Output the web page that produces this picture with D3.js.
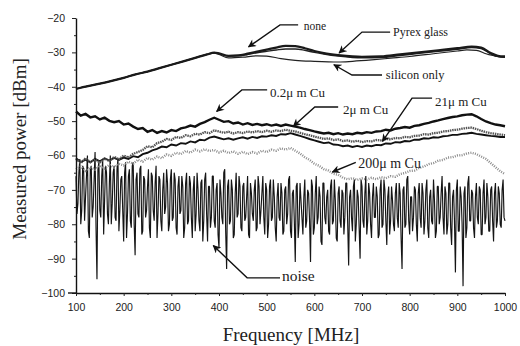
<!DOCTYPE html>
<html>
<head>
<meta charset="utf-8">
<script src="https://cdn.jsdelivr.net/npm/d3@7"></script>
<style>
  html, body { margin: 0; padding: 0; background: #fff; }
  svg { display: block; }
</style>
</head>
<body>
<svg id="chart" width="520" height="346"></svg>
<script>
// ---------------- DATA ----------------
const xTicks = [100, 200, 300, 400, 500, 600, 700, 800, 900, 1000];
const xMinor = [150, 250, 350, 450, 550, 650, 750, 850, 950];
const yTicks = [-20, -30, -40, -50, -60, -70, -80, -90, -100];
const yMinor = [-25, -35, -45, -55, -65, -75, -85, -95];

// smooth top curves: [frequency MHz, dBm]
const noneData = [[100,-40.6],[125,-39.8],[150,-39.1],[175,-38.3],[200,-37.4],[225,-36.4],[250,-35.6],[275,-34.6],[300,-33.6],[325,-32.6],[350,-31.6],[375,-30.6],[390,-30.1],[400,-30.3],[420,-31.0],[440,-30.9],[460,-30.4],[480,-29.8],[500,-29.2],[520,-28.6],[540,-28.1],[560,-28.2],[580,-28.8],[600,-29.6],[620,-30.2],[650,-30.8],[680,-31.2],[700,-31.3],[740,-31.2],[780,-30.6],[820,-30.0],[860,-29.4],[900,-28.8],[930,-28.3],[950,-28.6],[970,-30.2],[985,-31.0],[1000,-31.2]];
const pyrexData = [[100,-40.6],[125,-39.8],[150,-39.1],[175,-38.3],[200,-37.4],[225,-36.4],[250,-35.6],[275,-34.6],[300,-33.6],[325,-32.6],[350,-31.6],[375,-30.6],[390,-30.1],[400,-30.4],[420,-31.1],[440,-31.0],[460,-30.6],[480,-30.1],[500,-29.7],[520,-29.3],[540,-29.0],[560,-29.0],[580,-29.4],[600,-30.0],[620,-30.5],[650,-31.1],[680,-31.5],[700,-31.6],[740,-31.5],[780,-30.9],[820,-30.3],[860,-29.7],[900,-29.1],[930,-28.6],[950,-28.9],[970,-30.4],[985,-31.2],[1000,-31.4]];
const siliconData = [[100,-40.6],[125,-39.8],[150,-39.1],[175,-38.3],[200,-37.4],[225,-36.4],[250,-35.6],[275,-34.6],[300,-33.6],[325,-32.6],[350,-31.6],[375,-30.6],[390,-30.2],[400,-30.6],[420,-31.6],[450,-31.4],[480,-31.0],[500,-31.1],[530,-31.8],[560,-32.3],[600,-32.6],[650,-32.8],[680,-32.6],[720,-32.2],[760,-31.7],[800,-31.2],[850,-30.4],[900,-29.6],[920,-29.3],[940,-29.4],[960,-30.4],[980,-31.1],[1000,-31.3]];

// Cu curves sampled every 10 MHz from 100 to 1000 MHz
const cu02 = [-47.2,-48.4,-47.9,-48.9,-48.6,-49.5,-49.0,-49.9,-50.3,-50.0,
  -51.0,-50.7,-51.6,-52.3,-52.0,-53.1,-52.6,-53.4,-52.9,-53.3,
  -52.6,-52.9,-52.1,-51.8,-51.3,-51.6,-50.8,-50.3,-49.6,-49.0,
  -49.6,-50.2,-50.0,-50.7,-50.4,-51.0,-50.6,-51.1,-50.8,-51.2,
  -50.9,-51.3,-51.0,-51.4,-51.0,-51.3,-51.6,-51.9,-52.3,-52.6,
  -53.0,-53.3,-53.6,-53.4,-53.8,-53.5,-53.9,-53.6,-53.8,-53.4,
  -53.6,-53.2,-53.4,-53.0,-52.9,-52.5,-52.7,-52.2,-52.0,-51.7,
  -51.9,-51.4,-51.2,-50.8,-50.5,-50.1,-49.8,-49.4,-49.1,-48.8,
  -48.6,-48.3,-48.1,-48.0,-48.6,-49.4,-50.1,-50.6,-51.0,-51.2,-51.5];
const cu2 = [-61.0,-62.2,-60.8,-61.9,-61.2,-62.0,-60.9,-61.6,-60.4,-61.1,
  -60.0,-60.6,-59.5,-59.0,-58.4,-57.3,-57.6,-56.4,-56.0,-55.2,
  -55.5,-54.6,-54.9,-54.1,-54.4,-53.7,-53.9,-53.2,-53.5,-52.7,
  -53.0,-53.4,-53.1,-53.6,-53.2,-53.5,-53.0,-53.3,-52.9,-53.2,
  -52.8,-53.1,-52.7,-52.9,-52.5,-52.8,-53.0,-53.4,-53.8,-54.1,
  -54.5,-54.8,-55.2,-55.0,-55.5,-55.3,-55.8,-55.6,-56.0,-55.7,
  -56.1,-55.8,-55.9,-55.5,-55.6,-55.2,-55.3,-54.9,-55.0,-54.6,
  -54.7,-54.3,-54.2,-53.8,-53.9,-53.5,-53.4,-53.0,-52.9,-52.6,
  -52.5,-52.2,-52.0,-51.9,-52.3,-52.8,-53.2,-53.5,-53.7,-53.9,-54.1];
const cu21 = [-60.8,-61.9,-61.2,-62.0,-61.0,-61.7,-60.8,-61.5,-60.7,-61.3,
  -60.6,-61.0,-60.2,-60.5,-59.6,-59.2,-58.5,-58.1,-57.4,-57.6,
  -56.8,-57.1,-56.4,-56.6,-55.9,-56.2,-55.4,-55.6,-54.8,-54.5,
  -54.9,-55.3,-55.0,-55.4,-55.0,-54.7,-55.1,-54.6,-54.9,-54.4,
  -54.5,-54.1,-54.3,-53.8,-53.9,-53.5,-53.9,-54.3,-54.7,-55.2,
  -55.6,-56.0,-56.4,-56.2,-56.8,-56.9,-57.3,-57.1,-57.5,-57.2,
  -57.5,-57.1,-57.3,-56.9,-57.0,-56.5,-56.6,-56.1,-56.2,-55.8,
  -55.9,-55.4,-55.4,-55.0,-55.1,-54.7,-54.8,-54.4,-54.3,-54.0,
  -54.0,-53.7,-53.6,-53.4,-53.7,-53.9,-54.1,-54.3,-54.4,-54.6,-54.6];
const cu200 = [-64.0,-63.2,-64.5,-63.4,-64.1,-63.0,-63.8,-62.7,-63.5,-62.4,
  -62.9,-61.8,-62.4,-61.2,-61.8,-60.7,-61.2,-60.3,-60.8,-59.7,
  -60.1,-59.2,-59.6,-58.7,-59.2,-58.3,-58.8,-58.2,-58.7,-58.4,
  -59.1,-58.6,-59.3,-58.8,-59.5,-58.9,-59.6,-59.0,-59.4,-58.6,
  -59.0,-58.3,-58.6,-57.9,-58.3,-57.8,-58.6,-59.4,-60.5,-61.3,
  -62.4,-63.0,-64.0,-64.4,-65.3,-65.6,-66.5,-66.9,-66.6,-67.1,
  -66.7,-67.0,-66.5,-66.9,-66.3,-66.6,-66.0,-66.2,-65.4,-65.1,
  -64.5,-64.4,-63.6,-63.2,-62.5,-62.2,-61.5,-61.3,-60.6,-60.5,
  -60.0,-59.9,-59.4,-59.2,-59.6,-60.3,-61.0,-62.2,-63.4,-64.6,-65.4];

// noise floor: samples at 100, 104, ... 1000 MHz
const noise = [-66,-74,-61,-76,-64,-72,-60,-84,-63,-75,
  -59,-96,-62,-78,-61,-73,-65,-80,-60,-74,
  -63,-79,-61,-76,-66,-85,-62,-77,-64,-81,
  -62,-89,-65,-78,-63,-82,-67,-76,-64,-84,
  -66,-79,-63,-77,-67,-82,-65,-75,-68,-80,
  -64,-78,-67,-83,-66,-76,-69,-81,-65,-79,
  -68,-84,-66,-77,-70,-82,-67,-79,-65,-85,
  -69,-78,-66,-81,-68,-87,-71,-80,-64,-93,
  -67,-79,-70,-83,-65,-77,-69,-82,-68,-78,
  -66,-84,-71,-79,-67,-81,-69,-76,-66,-83,
  -70,-80,-67,-78,-72,-85,-68,-79,-71,-82,
  -69,-77,-66,-84,-70,-91,-68,-80,-73,-83,
  -67,-79,-71,-91,-69,-81,-66,-78,-72,-86,
  -68,-80,-70,-83,-67,-79,-73,-85,-69,-81,
  -71,-78,-68,-92,-70,-82,-67,-80,-72,-90,
  -69,-81,-66,-79,-71,-84,-68,-78,-72,-83,
  -67,-80,-70,-86,-69,-79,-73,-82,-68,-81,
  -71,-93,-69,-80,-66,-83,-72,-78,-70,-85,
  -68,-81,-71,-79,-67,-84,-70,-80,-73,-82,
  -69,-78,-66,-83,-71,-80,-68,-86,-70,-94,
  -67,-82,-72,-98,-69,-81,-66,-79,-71,-84,
  -68,-80,-70,-83,-67,-78,-72,-82,-69,-85,
  -68,-79,-71,-81,-67,-79];
// noise floor: in-between samples at 102, 106, ... 998 MHz
const noiseB = [-77,-65,-80,-63,-79,-66,-82,-64,-78,-67,
  -81,-64,-76,-66,-83,-63,-77,-68,-80,-65,
  -78,-64,-82,-67,-76,-65,-84,-66,-79,-63,
  -80,-67,-77,-64,-83,-66,-78,-69,-81,-65,
  -76,-68,-84,-66,-79,-70,-77,-64,-82,-67,
  -79,-65,-81,-69,-77,-66,-84,-68,-80,-66,
  -78,-70,-82,-65,-79,-68,-85,-67,-77,-69,
  -81,-66,-79,-70,-83,-67,-78,-65,-82,-69,
  -80,-67,-84,-71,-78,-66,-81,-69,-79,-72,
  -83,-68,-77,-70,-82,-66,-80,-71,-78,-68,
  -84,-69,-79,-67,-81,-72,-78,-68,-83,-70,
  -80,-67,-82,-71,-79,-69,-84,-68,-78,-72,
  -81,-70,-79,-67,-83,-71,-80,-69,-85,-68,
  -78,-72,-82,-69,-80,-67,-84,-71,-79,-70,
  -83,-68,-80,-72,-78,-69,-85,-70,-81,-67,
  -79,-71,-83,-68,-80,-72,-78,-69,-84,-70,
  -81,-67,-79,-72,-83,-69,-80,-71,-78,-68,
  -84,-70,-81,-67,-79,-72,-82,-69,-80,-71,
  -78,-68,-83,-70,-81,-72,-79,-67,-84,-69,
  -80,-71,-78,-69,-83,-68,-81,-72,-79,-70,
  -82,-69,-80,-71,-84,-68,-79,-70,-81,-72,
  -78,-69,-83,-71,-80,-68,-82,-70,-79,-71,
  -81,-69,-80,-70,-78];

// annotations: text, text anchor point [MHz, dBm], arrow polyline [MHz, dBm], font size
const labels = [
  {text: "none",        at: [578, -23.6], arrow: [[566,-22.0],[528,-22.0],[462,-28.4]], size: 11.5},
  {text: "Pyrex glass", at: [765, -25.2], arrow: [[759,-24.1],[700,-24.1],[652,-30.2]], size: 12},
  {text: "silicon only",at: [750, -37.7], arrow: [[742,-36.6],[679,-36.6],[641,-33.6]], size: 12.5},
  {text: "0.2μ m Cu",   at: [507, -43.0], arrow: [[501,-40.9],[448,-40.9],[395,-47.2]], size: 13},
  {text: "2μ m Cu",     at: [660, -48.0], arrow: [[650,-45.9],[601,-45.9],[556,-51.5]], size: 13},
  {text: "21μ m Cu",    at: [853, -45.6], arrow: [[847,-43.3],[805,-43.3],[743,-55.9]], size: 13},
  {text: "200μ m Cu",   at: [692, -63.6], arrow: [[687,-62.0],[638,-64.8]], size: 14},
  {text: "noise",       at: [532, -96.4], arrow: [[528,-95.6],[459,-95.6],[388,-86.2]], size: 15.5}
];

// ---------------- CHART ----------------
const svg = d3.select("#chart");
const x = d3.scaleLinear().domain([100, 1000]).range([76, 505]);
const y = d3.scaleLinear().domain([-100, -20]).range([293, 18]);

const grid10 = d3.range(100, 1001, 10);
const gridA = d3.range(100, 1001, 4);
const gridB = d3.range(102, 1000, 4);
const toPairs = (vals, grid) => vals.map((v, i) => [grid[i], v]);
const noisePairs = toPairs(noise, gridA).concat(toPairs(noiseB, gridB))
  .sort((a, b) => a[0] - b[0]);

const line = d3.line().x(d => x(d[0])).y(d => y(d[1]));
const smooth = d3.line().x(d => x(d[0])).y(d => y(d[1])).curve(d3.curveMonotoneX);

const plot = svg.append("g");

// noise
plot.append("path").datum(noisePairs)
  .attr("d", line).attr("fill", "none").attr("stroke", "#151515")
  .attr("stroke-width", 1.15).attr("stroke-linejoin", "bevel");

// 200 um Cu (light speckled)
plot.append("path").datum(toPairs(cu200, grid10))
  .attr("d", line).attr("fill", "none").attr("stroke", "#8a8a8a")
  .attr("stroke-width", 2.4).attr("stroke-dasharray", "1 1.3");

// 21 um Cu (black)
plot.append("path").datum(toPairs(cu21, grid10))
  .attr("d", line).attr("fill", "none").attr("stroke", "#111")
  .attr("stroke-width", 1.9);

// 2 um Cu (grey speckled)
plot.append("path").datum(toPairs(cu2, grid10))
  .attr("d", line).attr("fill", "none").attr("stroke", "#555")
  .attr("stroke-width", 2.3).attr("stroke-dasharray", "1.5 0.8");

// 0.2 um Cu (black, thick)
plot.append("path").datum(toPairs(cu02, grid10))
  .attr("d", line).attr("fill", "none").attr("stroke", "#111")
  .attr("stroke-width", 2.4);

// top curves
plot.append("path").datum(siliconData)
  .attr("d", smooth).attr("fill", "none").attr("stroke", "#222").attr("stroke-width", 1.2);
plot.append("path").datum(pyrexData)
  .attr("d", smooth).attr("fill", "none").attr("stroke", "#222").attr("stroke-width", 1.4);
plot.append("path").datum(noneData)
  .attr("d", smooth).attr("fill", "none").attr("stroke", "#1a1a1a").attr("stroke-width", 2.3);

// ---------------- AXES ----------------
const tickFont = "'Liberation Sans', Arial, sans-serif";
const fmt = d3.format("d");
svg.append("g").attr("transform", `translate(0,293)`)
  .call(d3.axisBottom(x).tickValues(xTicks).tickFormat(fmt).tickSize(3).tickSizeOuter(0).tickPadding(8));
svg.append("g").attr("transform", `translate(0,293)`)
  .call(d3.axisBottom(x).tickValues(xMinor).tickSize(2).tickFormat(""))
  .call(g => g.select(".domain").remove());
svg.append("g").attr("transform", `translate(76,0)`)
  .call(d3.axisLeft(y).tickValues(yTicks).tickFormat(fmt).tickSize(4).tickSizeOuter(0).tickPadding(7));
svg.append("g").attr("transform", `translate(76,0)`)
  .call(d3.axisLeft(y).tickValues(yMinor).tickSize(2).tickFormat(""))
  .call(g => g.select(".domain").remove());

svg.selectAll(".domain").attr("stroke", "#111").attr("stroke-width", 1.4);
svg.selectAll(".tick line").attr("stroke", "#222");
svg.selectAll(".tick text").attr("font-family", tickFont).attr("font-size", 10.5).attr("fill", "#222");
// extend the x axis line slightly left of the y axis, as in the original
svg.append("line").attr("x1", 68).attr("x2", 76).attr("y1", 293).attr("y2", 293)
  .attr("stroke", "#111").attr("stroke-width", 1.4);

// axis titles
const serif = "'Liberation Serif', 'Times New Roman', serif";
svg.append("text").attr("x", 291).attr("y", 341)
  .attr("text-anchor", "middle").attr("font-family", serif).attr("font-size", 19)
  .attr("fill", "#222").text("Frequency [MHz]");
svg.append("text").attr("transform", "translate(26,149) rotate(-90)")
  .attr("text-anchor", "middle").attr("font-family", serif).attr("font-size", 19)
  .attr("fill", "#222").text("Measured power [dBm]");

// ---------------- ANNOTATIONS ----------------
svg.append("defs").append("marker")
  .attr("id", "ah").attr("viewBox", "0 0 10 10").attr("refX", 9).attr("refY", 5)
  .attr("markerWidth", 9).attr("markerHeight", 8).attr("markerUnits", "userSpaceOnUse")
  .attr("orient", "auto")
  .append("path").attr("d", "M0,0 L10,5 L0,10 L3,5 Z").attr("fill", "#111");

const ann = svg.append("g");
labels.forEach(l => {
  ann.append("path").datum(l.arrow).attr("d", line)
    .attr("fill", "none").attr("stroke", "#111").attr("stroke-width", 1.4)
    .attr("marker-end", "url(#ah)");
  ann.append("text").attr("x", x(l.at[0])).attr("y", y(l.at[1]))
    .attr("font-family", serif).attr("font-size", l.size).attr("fill", "#222")
    .text(l.text);
});
</script>
</body>
</html>
